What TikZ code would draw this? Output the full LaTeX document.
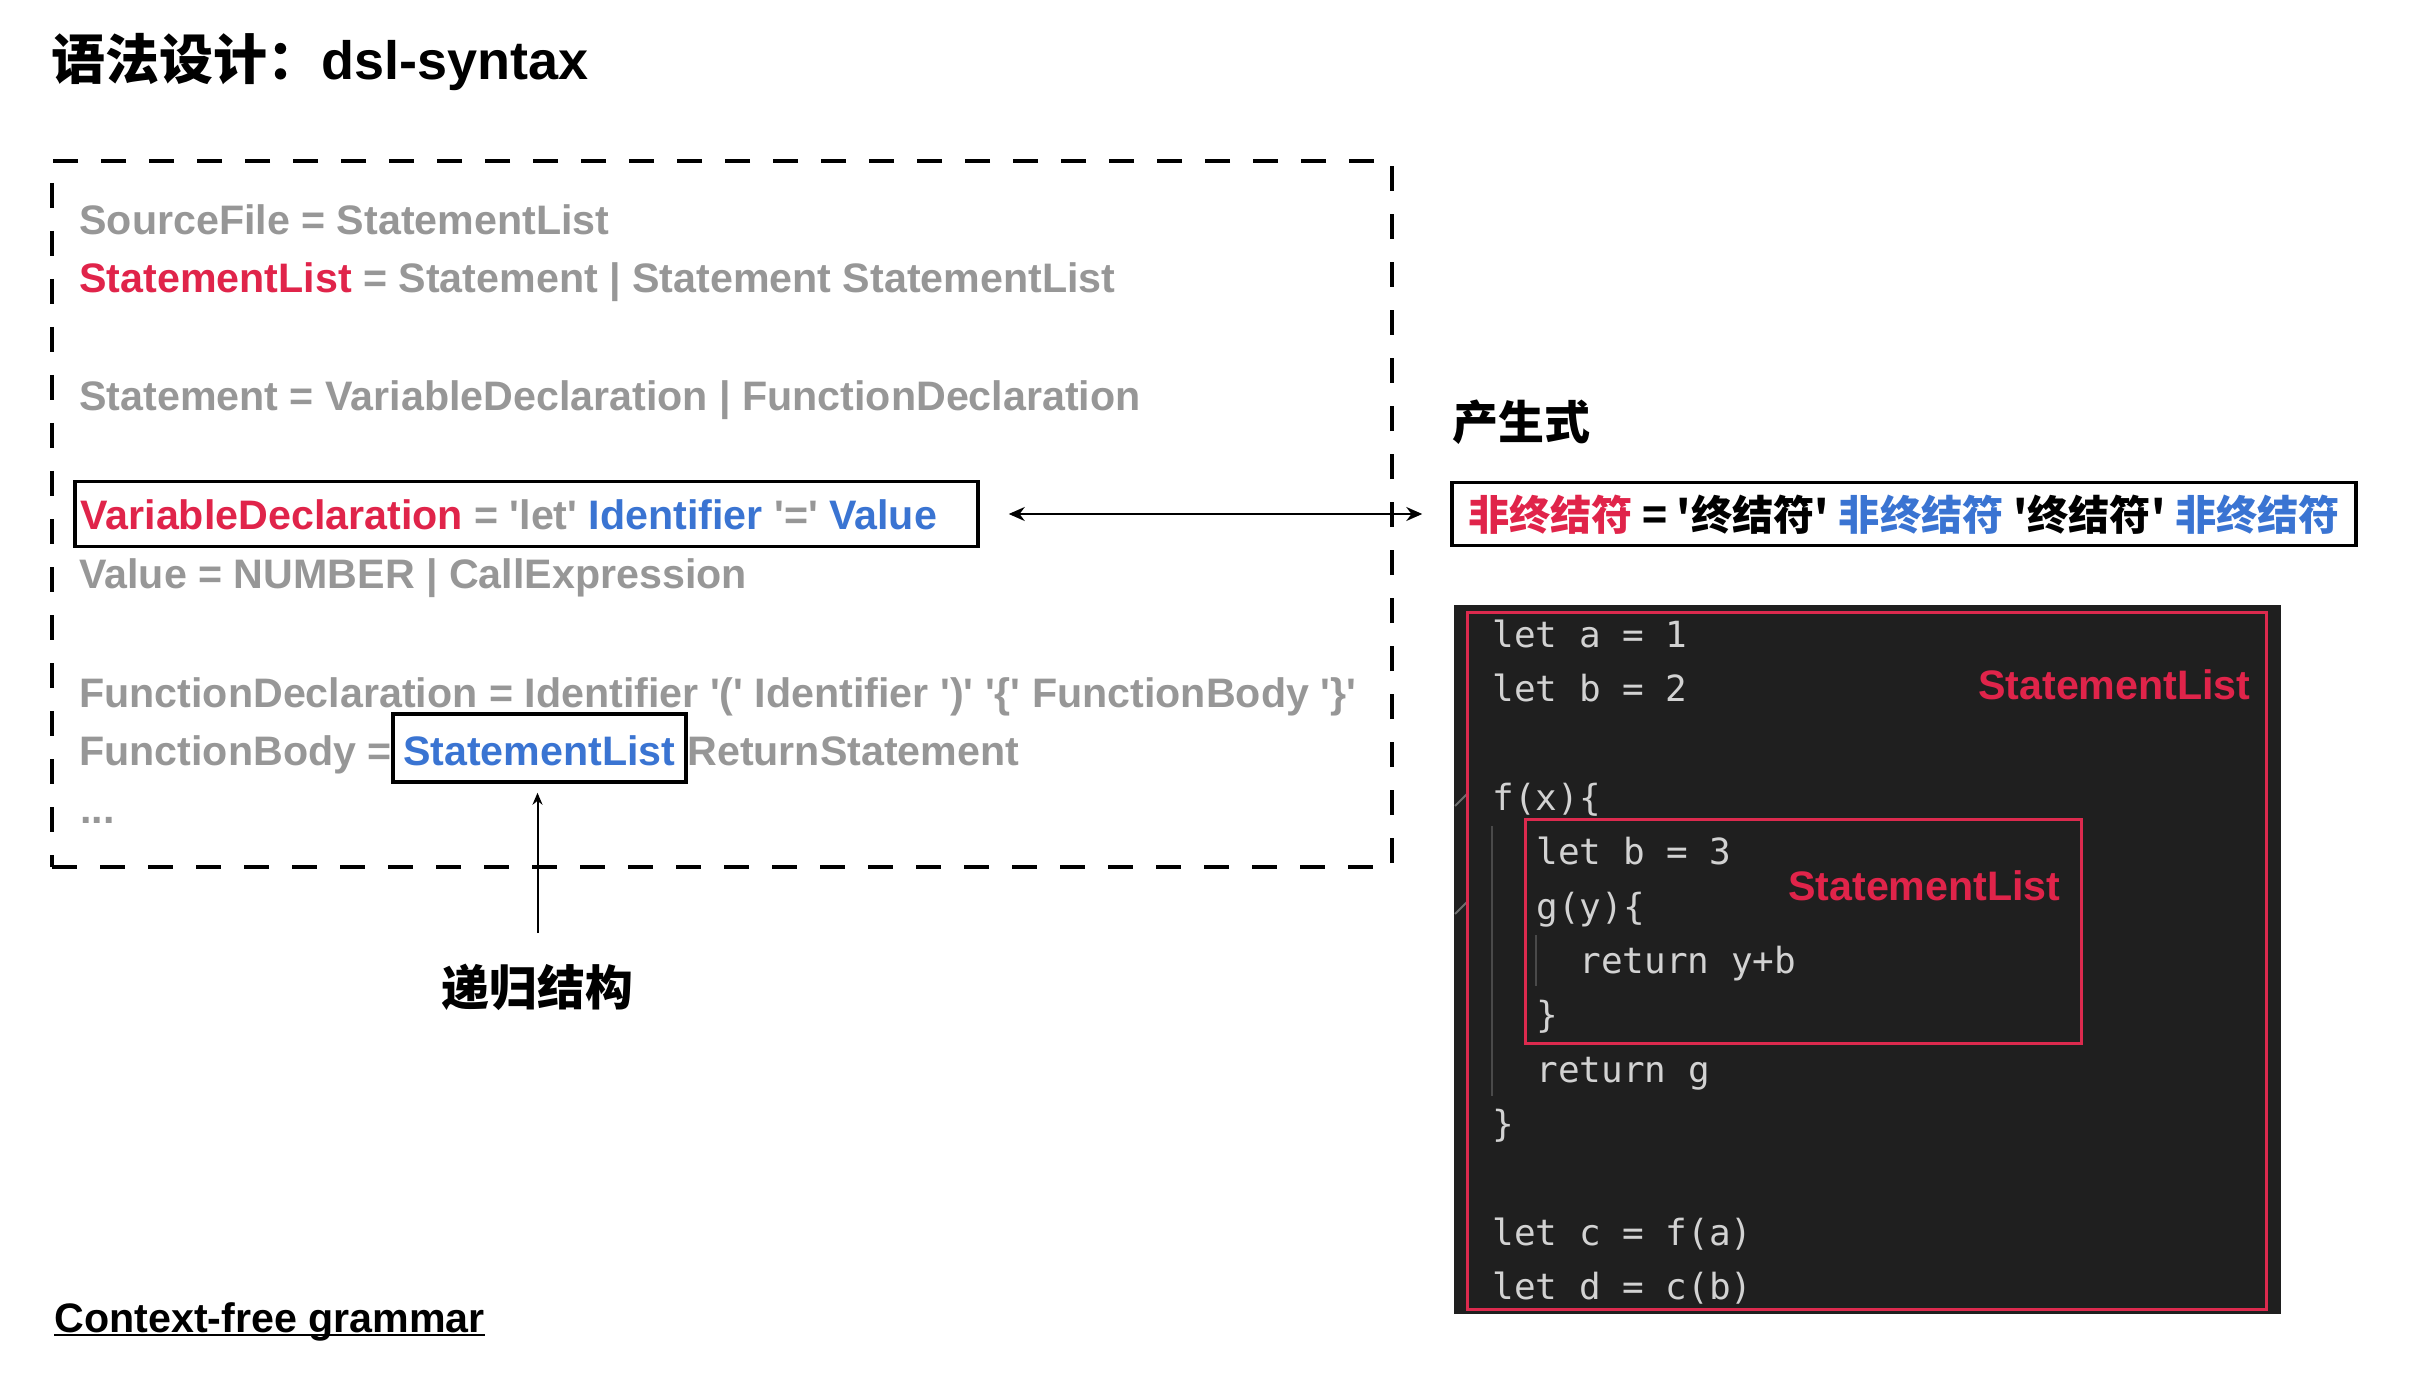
\documentclass[tikz,border=0pt]{standalone}
\usepackage{fontspec}
\setmainfont{Liberation Sans}
\newfontfamily\cjk{Noto Sans CJK SC}
\newfontfamily\codefont{DejaVu Sans Mono}
\usetikzlibrary{arrows.meta}
\definecolor{gred}{HTML}{E0244A}
\definecolor{gblue}{HTML}{3A74D2}
\definecolor{ggray}{HTML}{979797}
\definecolor{codebg}{HTML}{1F1F1F}
\definecolor{codefg}{HTML}{D2D2D2}
\definecolor{framered}{HTML}{DC2A4E}
\definecolor{guide}{HTML}{4A4A4A}
\newcommand\q{\textquotesingle}
\newcommand\gfont{\fontsize{20.6pt}{24pt}\selectfont\bfseries}
\tikzset{
  gram/.style={anchor=base west, inner sep=0pt, font=\gfont, text=ggray},
  hbox/.style={draw=black, line width=1.75pt, inner sep=0pt},
  gridbox/.style={draw=black, line width=2pt, dash pattern=on 12.5pt off 11.5pt},
  code/.style={anchor=base west, inner sep=0pt, text=codefg, font=\codefont\fontsize{18pt}{20pt}\selectfont},
  redframe/.style={draw=framered, line width=1.5pt, inner sep=0pt},
  sllabel/.style={anchor=base east, inner sep=0pt, text=gred, font=\gfont},
}
\begin{document}
\begin{tikzpicture}[x=0.5pt,y=-0.5pt]
\useasboundingbox (0,0) rectangle (2422,1380);

% title
\node[anchor=base west, inner sep=0pt, font=\fontsize{27pt}{30pt}\selectfont\bfseries] (title) at (51,80) {{\cjk\bfseries 语法设计：}dsl-syntax};

% grammar block
\node[gridbox, minimum width=670pt, minimum height=353pt] (gbox) at (722,514) {};
\node[gram] (l1) at (79,235) {SourceFile = StatementList};
\node[gram] (l2) at (79,293) {\textcolor{gred}{StatementList} = Statement | Statement StatementList};
\node[gram] (l3) at (79,410) {Statement = VariableDeclaration | FunctionDeclaration};
\node[hbox, minimum width=451.5pt, minimum height=32.5pt] (vd) at (526.5,514) {};
\node[gram] (l4) at (80,529) {\textcolor{gred}{VariableDeclaration} = \q let\q{} \textcolor{gblue}{Identifier} \q=\q{} \textcolor{gblue}{Value}};
\node[gram] (l5) at (79,588) {Value = NUMBER | CallExpression};
\node[gram] (l6) at (79,707) {FunctionDeclaration = Identifier \q(\q{} Identifier \q)\q{} \q\{\q{} FunctionBody \q\}\q};
\node[gram] (l7) at (79,765) {FunctionBody =};
\node[hbox, anchor=base west, minimum width=146.5pt, text height=25.5pt, text depth=8.5pt, font=\gfont, text=gblue] (sl) at (391,765) {StatementList};
\node[gram] (l7b) at (687,765) {ReturnStatement};
\node[gram] (l8) at (80,823) {...};

% production
\node[anchor=base west, inner sep=0pt, font=\cjk\bfseries\fontsize{23pt}{26pt}\selectfont] (hdr) at (1452,439) {产生式};
\node[hbox, minimum width=452pt, text height=24pt, text depth=7.5pt, font=\cjk\bfseries\fontsize{20.6pt}{24pt}\selectfont] (prod) at (1904,514)
  {\textcolor{gred}{非终结符} = \q 终结符\q{} \textcolor{gblue}{非终结符} \q 终结符\q{} \textcolor{gblue}{非终结符}};
\draw[line width=1pt, {Stealth[length=8pt,width=7pt]}-{Stealth[length=8pt,width=7pt]}, shorten <=14.5pt, shorten >=14pt] (vd.east) -- (prod.west);

% recursion label
\node[anchor=base, inner sep=0pt, font=\cjk\bfseries\fontsize{23.9pt}{26pt}\selectfont] (rec) at (537.5,1005) {递归结构};
\draw[line width=1pt, -{Stealth[length=6pt,width=5pt]}, shorten <=15pt, shorten >=4.5pt] (rec.north) -- (rec.north |- sl.south);

% footer
\node[gram, text=black] (cfg) at (54,1332) {Context-free grammar};
\draw[line width=1pt] ([yshift=-1.5pt]cfg.base west) -- ([yshift=-1.5pt]cfg.base east);

% code panel
\node[fill=codebg, minimum width=413.5pt, minimum height=354.5pt, inner sep=0pt] (panel) at (1867,959) {};
\draw[guide, line width=1pt] (1492,826) -- (1492,1096);
\draw[guide, line width=1pt] (1536,935) -- (1536,986);
\draw[color=guide!80!white, line width=1pt] (1455,806) -- (1467,794);
\draw[color=guide!80!white, line width=1pt] (1455,914) -- (1467,902);
\node[code] (c1) at (1492,647) {let a = 1};
\node[code] (c2) at (1492,701) {let b = 2};
\node[code] (c3) at (1492,810) {f(x)\{};
\node[code] (c4) at (1536,864) {let b = 3};
\node[code] (c5) at (1536,919) {g(y)\{};
\node[code] (c6) at (1579,973) {return y+b};
\node[code] (c7) at (1536,1027) {\}};
\node[code] (c8) at (1536,1082) {return g};
\node[code] (c9) at (1492,1136) {\}};
\node[code] (c10) at (1492,1245) {let c = f(a)};
\node[code] (c11) at (1492,1299) {let d = c(b)};
\node[redframe, minimum width=399.5pt, minimum height=348.5pt] (outer) at (1866.5,960.5) {};
\node[redframe, minimum width=278pt, minimum height=112pt] (inner) at (1803,931) {};
\node[sllabel] (lab1) at (2251,699) {StatementList};
\node[sllabel] (lab2) at (2061,900) {StatementList};
\end{tikzpicture}
\end{document}
